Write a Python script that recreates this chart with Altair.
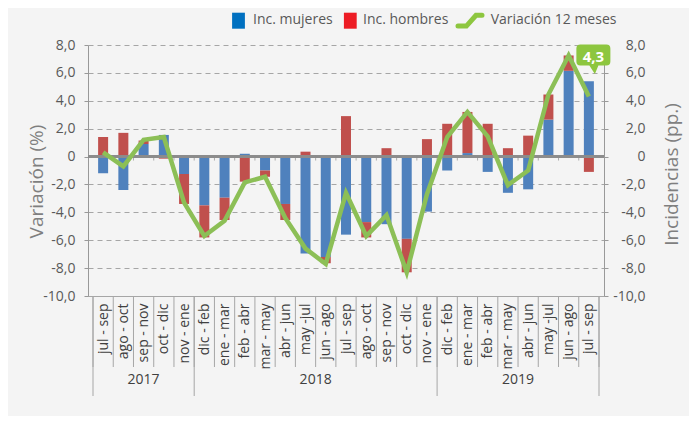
import json
import altair as alt
import pandas as pd

# ---------------- data ----------------
cats = ["jul - sep", "ago - oct", "sep - nov", "oct - dic", "nov - ene",
        "dic - feb", "ene - mar", "feb - abr", "mar - may", "abr - jun", "may -jul",
        "jun - ago", "jul - sep", "ago - oct", "sep - nov", "oct - dic", "nov - ene",
        "dic - feb", "ene - mar", "feb - abr", "mar - may", "abr - jun", "may -jul",
        "jun - ago", "jul - sep"]
year_names = ["2017", "2018", "2019"]
year_counts = [5, 12, 8]
mujeres = [-1.2, -2.4, 0.9, 1.55, -1.25, -3.5, -2.95, 0.2, -1.0, -3.4, -6.95, -7.2,
           -5.6, -4.7, -4.85, -5.9, -3.95, -1.0, 0.25, -1.1, -2.6, -2.35, 2.65, 6.15, 5.4]
hombres = [1.4, 1.7, 0.25, -0.15, -2.15, -2.3, -1.6, -1.8, -0.45, -1.15, 0.35, -0.45,
           2.9, -1.1, 0.6, -2.4, 1.25, 2.35, 2.95, 2.35, 0.6, 1.5, 1.8, 1.1, -1.1]
variacion = [0.3, -0.7, 1.2, 1.4, -3.3, -5.7, -4.6, -1.85, -1.45, -4.4, -6.6, -7.7,
             -2.6, -5.7, -4.2, -8.3, -2.7, 1.4, 3.2, 1.45, -2.05, -1.0, 4.45, 7.25, 4.3]
series_names = ["Inc. mujeres", "Inc. hombres", "Variación 12 meses"]
y_ticks = [-10, -8, -6, -4, -2, 0, 2, 4, 6, 8]

# ---------------- frames ----------------
n = len(cats)
idx = list(range(n))
bars_df = pd.DataFrame({
    "x": idx + idx,
    "serie": [series_names[0]] * n + [series_names[1]] * n,
    "v": mujeres + hombres,
    "ord": [0] * n + [1] * n,
})
line_df = pd.DataFrame({"x": idx, "v": variacion})
bounds_df = pd.DataFrame({"x": [i - 0.5 for i in range(n + 1)]})
inner_bounds_df = pd.DataFrame({"x": [i - 0.5 for i in range(1, n)]})
starts = []
s = 0
for c in year_counts:
    starts.append(s)
    s += c
year_bounds_df = pd.DataFrame({"x": [st - 0.5 for st in starts] + [n - 0.5]})
year_lab_df = pd.DataFrame({"x": [st + (c - 1) / 2 for st, c in zip(starts, year_counts)],
                            "year": year_names})

W, H = 516, 251
FONT = "Open Sans"
BLUE, RED, GREEN = "#4F81BD", "#C0504D", "#8CBF56"
LEG_BLUE, LEG_RED, LEG_GREEN = "#0070C0", "#ED1C24", "#8DC63F"

xscale = alt.Scale(domain=[-0.5, n - 0.5], nice=False, zero=False)
yscale = alt.Scale(domain=[-10, 8], nice=False, zero=False)

ylab = ("(datum.value < 0 ? '-' : '') + (datum.value == 0 ? '0' : "
        "replace(format(abs(datum.value), '.1f'), '.', ','))")

xaxis = alt.Axis(values=idx, labelExpr=json.dumps(cats) + "[datum.value]",
                 labelAngle=270, labelAlign="right", labelBaseline="middle",
                 labelPadding=7, ticks=False, tickSize=0, grid=False,
                 domainColor="#a6a6a6", labelFontSize=14, labelColor="#404040",
                 labelFlush=False, labelOverlap=False, labelBound=False, title=None)

yaxis_left = alt.Axis(values=y_ticks, labelExpr=ylab, title="Variación (%)",
                      titleFontSize=19, titleFontWeight="normal", titleColor="#7f7f7f",
                      titleAngle=270, titleAlign="center", titleBaseline="middle",
                      titleX=-52, titleY=136, grid=True, gridDash=[5, 4],
                      gridColor="#a6a6a6", domainColor="#999999", tickColor="#999999",
                      tickSize=4, labelPadding=9, labelFontSize=14, labelColor="#595959",
                      labelOverlap=False, labelFlush=False, labelBound=False)

yaxis_right = alt.Axis(orient="right", values=y_ticks, labelExpr=ylab,
                       title="Incidencias (pp.)", titleFontSize=19,
                       titleFontWeight="normal", titleColor="#7f7f7f", titleAngle=270,
                       titleAlign="center", titleBaseline="middle", titleX=67,
                       titleY=129, grid=False, domainColor="#999999",
                       tickColor="#999999", tickSize=4, labelAlign="right",
                       labelPadding=37, labelFontSize=14, labelColor="#595959",
                       labelOverlap=False, labelFlush=False, labelBound=False)


def X():
    return alt.X("x:Q", scale=xscale, axis=xaxis, title=None)


def Y(field="v", **kw):
    return alt.Y(f"{field}:Q", scale=yscale, axis=yaxis_left, title="Variación (%)", **kw)


def Y0():
    return alt.datum(0, scale=yscale, axis=yaxis_left, title="Variación (%)")


bars = alt.Chart(bars_df).mark_bar(width=10).encode(
    x=X(),
    y=Y(stack="zero"),
    color=alt.Color("serie:N", scale=alt.Scale(domain=series_names[:2], range=[BLUE, RED]),
                    legend=None),
    order=alt.Order("ord:Q"),
)

zero_rule = alt.Chart(line_df).mark_rule(color="#8c8c8c", strokeWidth=2).encode(y=Y0())

zero_ticks = alt.Chart(inner_bounds_df).mark_tick(
    orient="vertical", size=4, thickness=1, yOffset=2, color="#8c8c8c"
).encode(x=X(), y=Y0())

line = alt.Chart(line_df).mark_line(color=GREEN, strokeWidth=4.5).encode(x=X(), y=Y())

callout_path = ("M -0.765,-0.618 L 0.765,-0.618 Q 1,-0.618 1,-0.382 L 1,0.382 "
                "Q 1,0.618 0.765,0.618 L 0.294,0.618 L 0.088,1.118 L -0.235,0.618 "
                "L -0.765,0.618 Q -1,0.618 -1,0.382 L -1,-0.382 Q -1,-0.618 -0.765,-0.618 Z")
last = alt.Chart(line_df).transform_filter(f"datum.x == {n - 1}").transform_calculate(
    lab="replace(format(datum.v, '.1f'), '.', ',')"
)
callout = last.mark_point(shape=callout_path, filled=True, fill="#8DC63F", size=1156,
                          opacity=1, strokeWidth=0, xOffset=4.5, yOffset=-41.5).encode(
    x=X(), y=Y()
)
callout_text = last.mark_text(color="white", fontSize=15, fontWeight="bold",
                              align="center", baseline="middle",
                              xOffset=4.5, yOffset=-40).encode(
    x=X(), y=Y(), text="lab:N"
)

seps = alt.Chart(bounds_df).mark_rule(color="#a6a6a6", strokeWidth=1).encode(
    x=X(), y=alt.value(H), y2=alt.value(H + 71)
)
year_seps = alt.Chart(year_bounds_df).mark_rule(color="#a6a6a6", strokeWidth=1).encode(
    x=X(), y=alt.value(H), y2=alt.value(H + 100)
)
year_text = alt.Chart(year_lab_df).mark_text(fontSize=14, color="#404040",
                                             baseline="middle").encode(
    x=X(), y=alt.value(H + 84), text="year:N"
)

one = alt.Data(values=[{"k": 1}])
sq_path = "M -0.8,-1 L 0.8,-1 L 0.8,1 L -0.8,1 Z"
ln_path = "M -1,0.45 L -0.3,0.45 L 0.5,-0.45 L 1,-0.45"
leg_y = -24.3
legend = [
    alt.Chart(one).mark_point(shape=sq_path, filled=True, fill=LEG_BLUE, size=256,
                              opacity=1, strokeWidth=0).encode(
        x=alt.value(150.5), y=alt.value(leg_y)),
    alt.Chart(one).mark_point(shape=sq_path, filled=True, fill=LEG_RED, size=256,
                              opacity=1, strokeWidth=0).encode(
        x=alt.value(262.3), y=alt.value(leg_y)),
    alt.Chart(one).mark_point(shape=ln_path, filled=False, stroke=LEG_GREEN, size=576,
                              opacity=1, strokeWidth=5, strokeCap="round").encode(
        x=alt.value(382), y=alt.value(leg_y)),
]
for label, lx in zip(series_names, [165, 275, 402.7]):
    legend.append(
        alt.Chart(one).mark_text(text=label, fontSize=14, color="#595959", align="left",
                                 baseline="middle").encode(
            x=alt.value(lx), y=alt.value(leg_y - 0.5))
    )

inner = alt.layer(bars, zero_rule, zero_ticks, line, callout, callout_text,
                  seps, year_seps, year_text, *legend)

right = alt.Chart(line_df).mark_line(opacity=0).encode(
    x=X(), y=alt.Y("v:Q", scale=yscale, axis=yaxis_right, title="Incidencias (pp.)")
)

chart = alt.layer(inner, right).resolve_scale(y="independent").properties(
    width=W, height=H, background="#f4f4f4",
    padding={"left": 80, "top": 37, "right": 85, "bottom": 120},
    autosize=alt.AutoSizeParams(type="none"),
).configure(font=FONT).configure_view(stroke=None)

chart.save("out.html", embed_options={"renderer": "svg", "actions": False})
